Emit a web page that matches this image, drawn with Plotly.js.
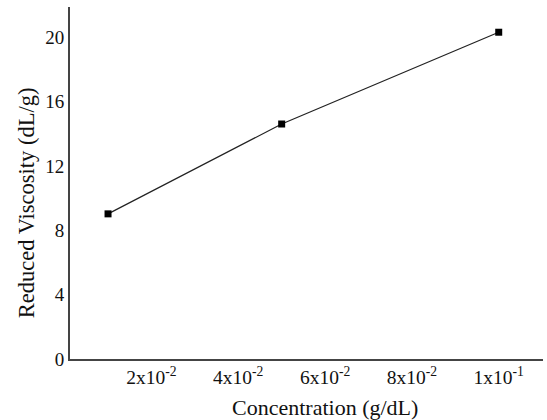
<!DOCTYPE html>
<html>
<head>
<meta charset="utf-8">
<script src="https://cdn.plot.ly/plotly-3.0.1.min.js"></script>
<style>html,body{margin:0;padding:0;background:#fff;}#chart{width:547px;height:420px;}</style>
</head>
<body>
<div id="chart"></div>
<script>
var concentration = [0.01, 0.05, 0.1];
var reducedViscosity = [9.03, 14.62, 20.33];
var xTickVals = [0.02, 0.04, 0.06, 0.08, 0.1];
var xTickText = ["2x10<sup>-2</sup>", "4x10<sup>-2</sup>", "6x10<sup>-2</sup>", "8x10<sup>-2</sup>", "1x10<sup>-1</sup>"];
var yTickVals = [0, 4, 8, 12, 16, 20];
var xTitle = 'Concentration (g/dL)';
var yTitle = 'Reduced Viscosity (dL/g)';

var trace = {
  x: concentration,
  y: reducedViscosity,
  type: 'scatter',
  mode: 'lines+markers',
  line: {color: '#222', width: 1.2},
  marker: {symbol: 'square', size: 7, color: '#000'},
  showlegend: false
};

var fam = '"Liberation Serif", "Times New Roman", serif';

var layout = {
  width: 547, height: 420,
  margin: {l: 70, r: 4, t: 7, b: 60.5},
  paper_bgcolor: '#fff', plot_bgcolor: '#fff',
  font: {family: fam, color: '#111', size: 19},
  xaxis: {
    range: [0.00124, 0.1102],
    tickvals: xTickVals, ticktext: xTickText,
    showgrid: false, zeroline: false,
    showline: true, linecolor: '#444', linewidth: 2,
    ticks: '',
    tickfont: {size: 19.5}
  },
  yaxis: {
    range: [0, 21.9],
    tickvals: yTickVals,
    showgrid: false, zeroline: false,
    showline: true, linecolor: '#444', linewidth: 2,
    ticks: '',
    tickfont: {size: 19}
  },
  annotations: [
    {text: xTitle, xref: 'paper', yref: 'paper', x: 0.539, y: -0.1376,
     xanchor: 'center', yanchor: 'middle', showarrow: false,
     font: {family: fam, size: 22, color: '#111'}},
    {text: yTitle, xref: 'paper', yref: 'paper', x: -0.093, y: 0.4426,
     xanchor: 'center', yanchor: 'middle', showarrow: false, textangle: -90,
     font: {family: fam, size: 22.5, color: '#111'}}
  ]
};

Plotly.newPlot('chart', [trace], layout, {displayModeBar: false, staticPlot: true});
</script>
</body>
</html>
